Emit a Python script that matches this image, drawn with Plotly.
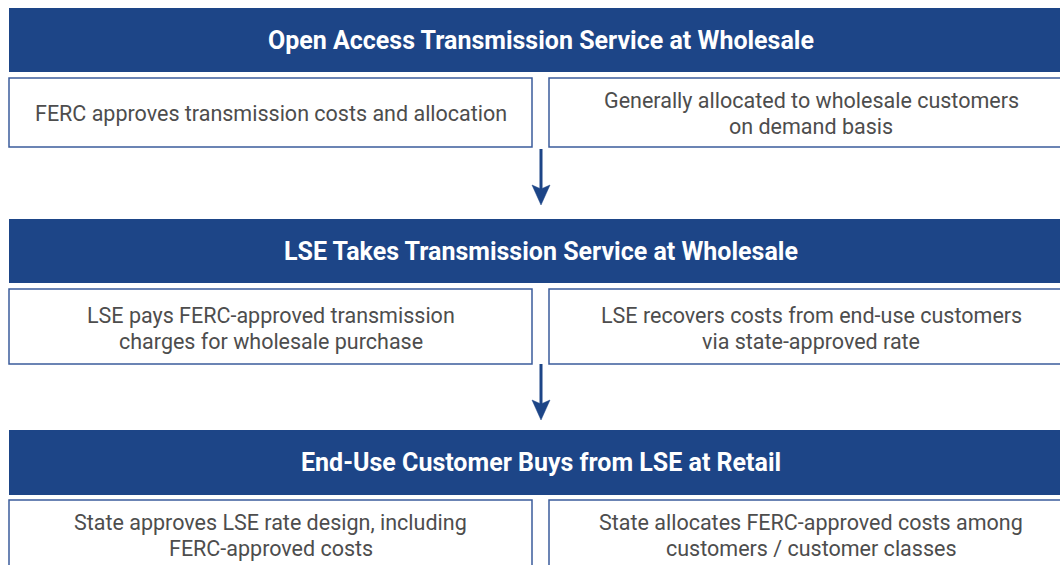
import plotly.graph_objects as go

headers = [
    "Open Access Transmission Service at Wholesale",
    "LSE Takes Transmission Service at Wholesale",
    "End-Use Customer Buys from LSE at Retail",
]
left_texts = [
    "FERC approves transmission costs and allocation",
    "LSE pays FERC-approved transmission<br>charges for wholesale purchase",
    "State approves LSE rate design, including<br>FERC-approved costs",
]
right_texts = [
    "Generally allocated to wholesale customers<br>on demand basis",
    "LSE recovers costs from end-use customers<br>via state-approved rate",
    "State allocates FERC-approved costs among<br>customers / customer classes",
]

# layout geometry (page pixels)
header_y = [(8, 72), (219, 283), (430, 495)]
box_y = [(78, 147), (289, 364), (500, 590)]
text_cy = [113, 328, 535]
LINE_GAP = 26
arrow_y = [(149, 205), (364, 420)]
X0, XMID_L, XMID_R, X1 = 9, 532, 549, 1073
AX = 541

NAVY = "#1d4587"
BORDER = "#3b5c9c"
TEXT = "#4d4d4d"

fig = go.Figure()
shapes = []
annotations = []


def add_text(x, cy, txt):
    lines = txt.split("<br>")
    n = len(lines)
    for k, ln in enumerate(lines):
        y = cy + (k - (n - 1) / 2) * LINE_GAP
        annotations.append(dict(x=x, y=y, xref="x", yref="y", text=ln, showarrow=False,
                                font=dict(family="Roboto", size=21.5, color=TEXT)))


for i, h in enumerate(headers):
    y0, y1 = header_y[i]
    shapes.append(dict(type="rect", xref="x", yref="y", x0=X0, x1=X1, y0=y0, y1=y1,
                       fillcolor=NAVY, line=dict(width=0), layer="below"))
    annotations.append(dict(x=(X0 + X1) / 2, y=(y0 + y1) / 2, xref="x", yref="y",
                            text=h, showarrow=False,
                            font=dict(family="Roboto", size=25, color="white", weight="bold")))
    b0, b1 = box_y[i]
    shapes.append(dict(type="rect", xref="x", yref="y", x0=X0, x1=XMID_L, y0=b0, y1=b1,
                       fillcolor="white", line=dict(color=BORDER, width=1.5), layer="below"))
    shapes.append(dict(type="rect", xref="x", yref="y", x0=XMID_R, x1=X1, y0=b0, y1=b1,
                       fillcolor="white", line=dict(color=BORDER, width=1.5), layer="below"))
    add_text((X0 + XMID_L) / 2, text_cy[i], left_texts[i])
    add_text((XMID_R + X1) / 2, text_cy[i], right_texts[i])

for (a0, a1) in arrow_y:
    shapes.append(dict(type="line", xref="x", yref="y", x0=AX, x1=AX, y0=a0, y1=a1 - 12,
                       line=dict(color=NAVY, width=3)))
    shapes.append(dict(type="path", xref="x", yref="y",
                       path=f"M {AX-9} {a1-20} L {AX} {a1-16} L {AX+9} {a1-20} L {AX} {a1} Z",
                       fillcolor=NAVY, line=dict(color=NAVY, width=0.5)))

fig.update_layout(
    width=1060, height=565,
    margin=dict(l=0, r=0, t=0, b=0),
    paper_bgcolor="white", plot_bgcolor="white",
    xaxis=dict(range=[0, 1060], visible=False, fixedrange=True),
    yaxis=dict(range=[565, 0], visible=False, fixedrange=True),
    shapes=shapes, annotations=annotations, showlegend=False,
)
fig.write_html(
    "out.html",
    config={"displayModeBar": False},
    post_script="document.body.style.margin='0';document.body.style.overflow='hidden';",
)
